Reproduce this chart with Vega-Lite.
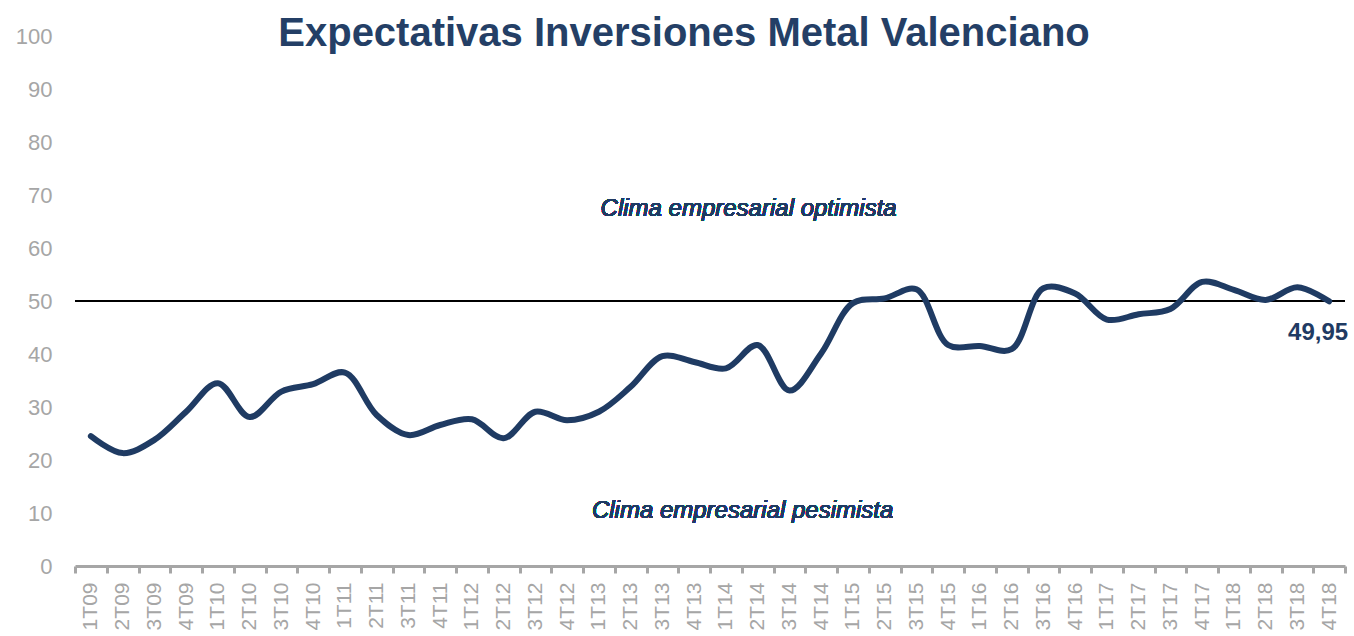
{
  "$schema": "https://vega.github.io/schema/vega-lite/v6.json",
  "width": 1270,
  "height": 530,
  "autosize": {"type": "none"},
  "padding": {"left": 75, "top": 36, "right": 9, "bottom": 70},
  "background": "white",
  "view": {"stroke": null},
  "title": {
    "text": "Expectativas Inversiones Metal Valenciano",
    "font": "Liberation Sans",
    "fontSize": 40,
    "fontWeight": "bold",
    "color": "#243f66",
    "anchor": "middle",
    "frame": "group",
    "baseline": "alphabetic",
    "offset": -31,
    "dy": 30,
    "dx": -26
  },
  "data": {
    "values": [
      {"q": "1T09", "v": 24.5}, {"q": "2T09", "v": 21.3}, {"q": "3T09", "v": 23.8}, {"q": "4T09", "v": 29.1},
      {"q": "1T10", "v": 34.5}, {"q": "2T10", "v": 28.1}, {"q": "3T10", "v": 32.9}, {"q": "4T10", "v": 34.3},
      {"q": "1T11", "v": 36.5}, {"q": "2T11", "v": 28.5}, {"q": "3T11", "v": 24.7}, {"q": "4T11", "v": 26.6},
      {"q": "1T12", "v": 27.7}, {"q": "2T12", "v": 24.1}, {"q": "3T12", "v": 29.1}, {"q": "4T12", "v": 27.5},
      {"q": "1T13", "v": 29.1}, {"q": "2T13", "v": 33.8}, {"q": "3T13", "v": 39.6}, {"q": "4T13", "v": 38.5},
      {"q": "1T14", "v": 37.3}, {"q": "2T14", "v": 41.7}, {"q": "3T14", "v": 33.1}, {"q": "4T14", "v": 40.1},
      {"q": "1T15", "v": 49.6}, {"q": "2T15", "v": 50.5}, {"q": "3T15", "v": 52.2}, {"q": "4T15", "v": 41.7},
      {"q": "1T16", "v": 41.5}, {"q": "2T16", "v": 40.9}, {"q": "3T16", "v": 52.4}, {"q": "4T16", "v": 51.4},
      {"q": "1T17", "v": 46.5}, {"q": "2T17", "v": 47.5}, {"q": "3T17", "v": 48.5}, {"q": "4T17", "v": 53.6},
      {"q": "1T18", "v": 52.1}, {"q": "2T18", "v": 50.2}, {"q": "3T18", "v": 52.6}, {"q": "4T18", "v": 49.95}
    ]
  },
  "encoding": {
    "x": {
      "field": "q",
      "type": "ordinal",
      "sort": null,
      "title": null,
      "bandPosition": 0.5,
      "scale": {"type": "band", "paddingInner": 0, "paddingOuter": 0},
      "axis": {
        "labelAngle": -90,
        "labelFont": "Liberation Sans",
        "labelFontSize": 21,
        "labelColor": "#a6a6a6",
        "labelPadding": 9,
        "domainColor": "#a6a6a6",
        "domainWidth": 3,
        "tickColor": "#a6a6a6",
        "tickWidth": 3,
        "tickSize": 7,
        "tickBand": "extent",
        "grid": false
      }
    },
    "y": {
      "field": "v",
      "type": "quantitative",
      "title": null,
      "scale": {"domain": [0, 100], "nice": false},
      "axis": {
        "values": [0, 10, 20, 30, 40, 50, 60, 70, 80, 90, 100],
        "labelFont": "Liberation Sans",
        "labelFontSize": 22,
        "labelColor": "#a6a6a6",
        "labelPadding": 23,
        "domain": false,
        "ticks": false,
        "grid": false
      }
    }
  },
  "layer": [
    {
      "mark": {"type": "rule", "color": "#000000", "strokeWidth": 2},
      "encoding": {"x": null, "y": {"datum": 50, "type": "quantitative"}}
    },
    {
      "mark": {"type": "line", "color": "#1f3b63", "strokeWidth": 6, "interpolate": "catmull-rom", "strokeCap": "round", "strokeJoin": "round"}
    },
    {
      "transform": [{"filter": "datum.q === '4T18'"}],
      "mark": {"type": "text", "font": "Liberation Sans", "fontSize": 24, "fontWeight": "bold", "color": "#1f3b63", "baseline": "alphabetic", "align": "center", "dx": -11, "dy": 39},
      "encoding": {"text": {"value": "49,95"}}
    },
    {
      "mark": {"type": "text", "font": "Liberation Sans", "fontStyle": "italic", "fontSize": 24, "color": "#1f3b63", "align": "center", "baseline": "middle", "dx": -9},
      "encoding": {
        "x": {"datum": "2T14"},
        "y": {"datum": 67.4},
        "text": {"value": "Clima empresarial optimista"}
      }
    },
    {
      "mark": {"type": "text", "font": "Liberation Sans", "fontStyle": "italic", "fontSize": 24, "color": "#1f3b63", "align": "center", "baseline": "middle", "dx": -15},
      "encoding": {
        "x": {"datum": "2T14"},
        "y": {"datum": 10.4},
        "text": {"value": "Clima empresarial pesimista"}
      }
    }
  ]
}
